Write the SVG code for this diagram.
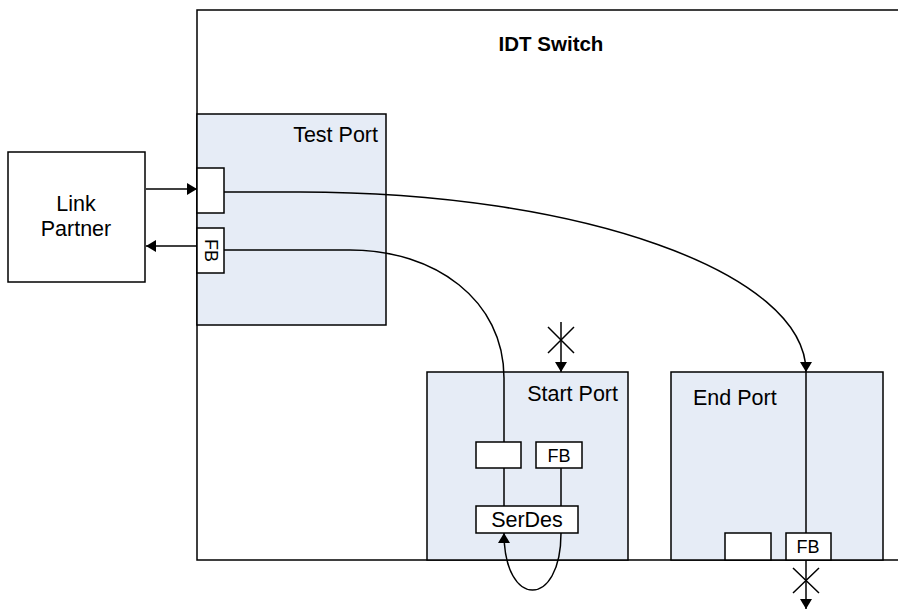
<svg xmlns="http://www.w3.org/2000/svg" width="898" height="611" viewBox="0 0 898 611">
<defs>
<marker id="arr" viewBox="0 0 10 12" refX="10" refY="6" markerWidth="10" markerHeight="12" markerUnits="userSpaceOnUse" orient="auto">
<path d="M0,0 L10,6 L0,12 Z" fill="#000"/>
</marker>
<style>
.box{fill:#fff;stroke:#000;stroke-width:1.5}
.port{fill:#e6ecf6;stroke:#000;stroke-width:1.5}
.ln{fill:none;stroke:#000;stroke-width:1.5}
.t{font-family:"Liberation Sans",Arial,sans-serif;font-size:21.5px;fill:#000}
.s{font-family:"Liberation Sans",Arial,sans-serif;font-size:18px;fill:#000}
</style>
</defs>
<g id="idt-switch">
<rect x="197" y="10" width="720" height="550" fill="#fff" stroke="#000" stroke-width="1.5"/>
<text x="551" y="51" text-anchor="middle" style="font-family:'Liberation Sans',Arial,sans-serif;font-size:20.5px;font-weight:bold">IDT Switch</text>
</g>
<g id="link-partner">
<rect class="box" x="8" y="152" width="137" height="130"/>
<text class="t" x="76" y="211" text-anchor="middle">Link</text>
<text class="t" x="76" y="236" text-anchor="middle">Partner</text>
</g>
<g id="test-port">
<rect class="port" x="197" y="114" width="189" height="211"/>
<text class="t" x="378" y="142" text-anchor="end">Test Port</text>
<rect class="box" x="197" y="168" width="27" height="45"/>
<rect class="box" x="197" y="228" width="27" height="45"/>
<text class="s" transform="translate(204.5,250.5) rotate(90)" text-anchor="middle">FB</text>
</g>
<g id="start-port">
<rect class="port" x="427" y="372" width="201" height="188"/>
<text class="t" x="618" y="401" text-anchor="end">Start Port</text>
<rect class="box" x="476" y="442" width="45" height="26"/>
<rect class="box" x="536" y="442" width="46" height="26"/>
<text class="s" x="559" y="462" text-anchor="middle">FB</text>
<rect class="box" x="476" y="506" width="102" height="27"/>
<text class="t" x="527" y="527" text-anchor="middle">SerDes</text>
</g>
<g id="end-port">
<rect class="port" x="671" y="372" width="212" height="188"/>
<text class="t" x="693" y="405">End Port</text>
<rect class="box" x="725" y="533" width="46" height="27"/>
<rect class="box" x="786" y="533" width="45" height="27"/>
<text class="s" x="808" y="553" text-anchor="middle">FB</text>
</g>
<g id="connectors">
<line class="ln" x1="146" y1="189" x2="197" y2="189" marker-end="url(#arr)"/>
<line class="ln" x1="197" y1="246" x2="146" y2="246" marker-end="url(#arr)"/>
<path class="ln" d="M224,192 H300 C579,192 806,272 806,372" marker-end="url(#arr)"/>
<line class="ln" x1="806" y1="372" x2="806" y2="533"/>
<path class="ln" d="M224,250 H350 C435,250 504,300 504,378 V442"/>
<line class="ln" x1="504" y1="468" x2="504" y2="506"/>
<line class="ln" x1="561" y1="468" x2="561" y2="506"/>
<path class="ln" d="M561,533 C561,609 504,609 504,533" marker-end="url(#arr)"/>
<line class="ln" x1="561" y1="322" x2="561" y2="372" marker-end="url(#arr)"/>
<path class="ln" d="M548,327 L574,353 M574,327 L548,353"/>
<line class="ln" x1="806" y1="560" x2="806" y2="609" marker-end="url(#arr)"/>
<path class="ln" d="M793,568 L819,593 M819,568 L793,593"/>
</g>
</svg>
